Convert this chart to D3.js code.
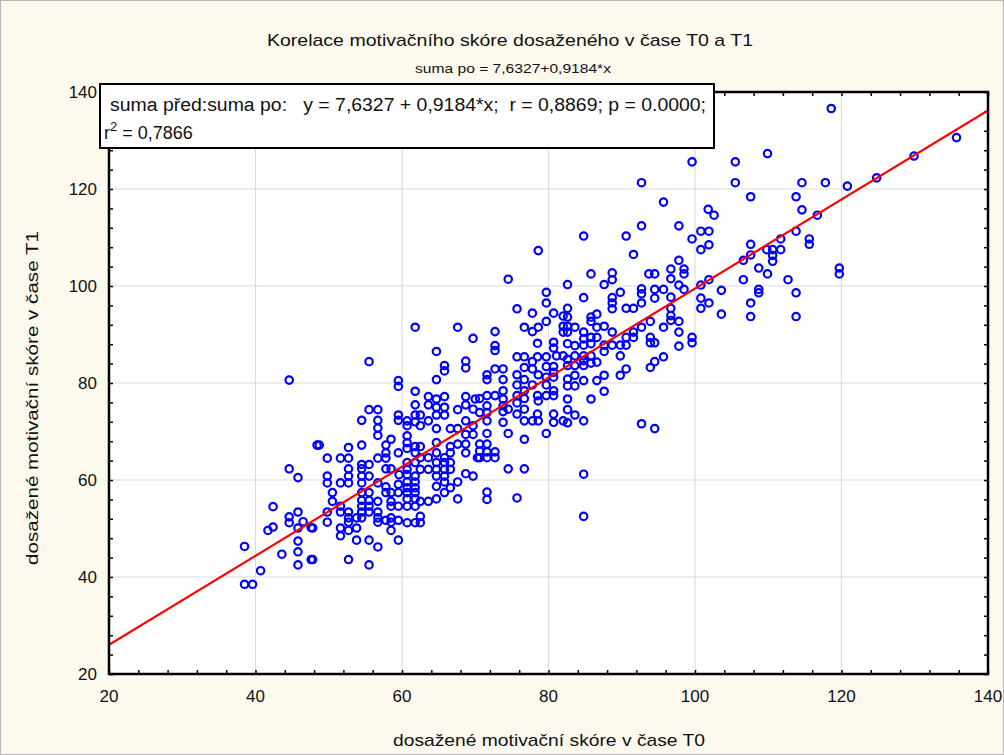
<!DOCTYPE html>
<html>
<head>
<meta charset="utf-8">
<script src="https://cdn.jsdelivr.net/npm/d3@7"></script>
<style>
  body { margin: 0; background: #fdf9ef; }
  svg text { font-family: "Liberation Sans", Arial, sans-serif; fill: #111; }
</style>
</head>
<body>
<svg id="chart" width="1004" height="755"></svg>
<script>
const width = 1004;
const height = 755;
const plot = { left: 109, right: 988, top: 92, bottom: 674 };

const xTicks = [20, 40, 60, 80, 100, 120, 140];
const yTicks = [20, 40, 60, 80, 100, 120, 140];
const lineIntercept = 7.6327;
const lineSlope = 0.9184;

// [suma před (T0), suma po (T1)]
const scorePairs = [
  [48.4,67.2],[44.6,62.3],[45.8,60.5],[42.4,54.5],[45.8,53.4],[44.6,52.4],[44.6,51.2],[46.5,51.4],[45.8,50.1],[47.6,50.2],
  [42.4,50.3],[41.7,49.6],[38.5,46.3],[45.8,47.4],[45.8,45.2],[43.6,44.7],[47.6,43.6],[45.8,42.5],[40.7,41.3],[38.5,38.5],
  [39.6,38.5],[44.6,80.6],
  [55.5,84.4],[59.5,80.5],[59.5,79.3],[55.5,74.5],[56.7,74.5],[54.5,72.3],[56.7,72.3],[59.5,73.4],[59.5,72.3],[56.7,70.7],
  [56.7,69.2],[58.5,68.4],[48.7,67.2],[52.7,66.7],[54.5,67.2],[57.8,67.2],[57.8,65.6],[59.5,65.6],[49.8,64.5],[51.6,64.5],
  [52.7,64.5],[56.7,64.5],[57.8,64.5],[54.5,63.2],[55.5,63.2],[52.7,62.3],[54.5,62.3],[57.8,62.3],[58.5,62.3],[49.8,60.8],
  [52.7,60.8],[54.5,60.8],[55.5,60.8],[49.8,59.4],[51.6,59.4],[52.7,59.4],[54.5,59.4],[56.7,59.4],[57.8,58.6],[59.5,59.1],
  [50.5,57.4],[54.5,57.4],[55.5,57.4],[57.8,57.4],[58.5,57.4],[59.5,57.4],[50.5,55.6],[54.5,55.8],[55.5,55.8],[56.7,55.6],
  [58.5,55.6],[51.6,54.6],[54.5,54.6],[55.5,54.6],[58.5,54.6],[59.5,54.6],[51.6,53.4],[52.7,53.4],[54.5,53.4],[55.5,53.4],
  [56.7,53.4],[49.8,53.4],[52.7,52.2],[53.8,52.2],[54.5,52.2],[56.7,52.2],[58.5,52.2],[57.8,51.7],[59.5,51.7],[49.8,51.3],
  [52.7,51.3],[56.7,51.3],[58.5,51.3],[47.8,50.1],[51.6,50.1],[53.8,50.1],[52.7,49.6],[58.5,49.6],[51.6,48.5],[59.5,47.6],
  [53.8,47.6],[55.5,47.6],[56.7,46.2],[47.8,43.6],[52.7,43.6],[55.5,42.5],
  [61.8,91.5],[67.6,91.5],[69.7,89.2],[64.7,86.5],[65.8,83.6],[65.8,82.5],[68.7,84.5],[68.7,83.1],[64.7,80.7],[61.8,78.3],
  [63.6,77.2],[64.7,76.7],[65.8,77.2],[68.7,77.2],[70.0,76.7],[61.8,75.5],[63.6,75.5],[64.7,75.0],[65.8,75.0],[68.7,75.5],
  [67.6,74.5],[69.7,74.6],[60.7,72.2],[61.8,73.4],[62.5,73.4],[64.7,73.4],[65.8,73.4],[60.7,71.2],[61.8,72.0],[62.5,71.2],
  [63.6,72.2],[64.7,70.6],[66.6,70.6],[67.6,70.6],[68.7,72.2],[69.7,71.2],[68.7,69.4],[69.7,69.4],[60.7,69.1],[60.7,67.7],
  [60.7,66.5],[61.8,66.9],[62.5,66.9],[64.7,67.7],[66.6,66.9],[67.6,67.4],[68.7,67.4],[68.7,65.6],[70.3,64.6],[61.8,65.6],
  [62.5,64.6],[63.6,64.6],[64.7,65.6],[65.8,64.6],[66.6,65.6],[60.7,63.6],[61.8,63.6],[64.7,63.6],[65.8,63.6],[66.6,63.6],
  [60.7,62.2],[62.5,62.2],[63.6,62.2],[64.7,62.2],[65.8,62.2],[66.6,62.2],[59.6,61.1],[60.7,61.1],[61.8,60.8],[64.7,60.8],
  [65.8,60.8],[68.7,61.3],[69.7,60.8],[60.7,59.6],[61.8,59.6],[65.8,59.6],[67.6,59.6],[60.7,58.4],[61.8,58.4],[64.7,58.7],
  [66.6,58.4],[60.7,57.4],[61.8,57.4],[65.8,57.4],[60.7,56.1],[61.8,56.1],[62.5,55.6],[63.6,55.6],[64.7,56.1],[67.6,56.1],
  [60.7,54.6],[61.8,54.6],[62.5,52.5],[62.5,51.2],[60.7,51.2],[61.8,51.2],
  [74.5,101.4],[79.7,98.7],[79.7,96.5],[75.7,95.3],[77.8,94.4],[80.7,94.4],[79.7,92.7],[76.7,91.5],[77.8,90.6],[78.6,91.5],
  [72.7,90.6],[72.7,87.7],[72.7,86.7],[78.5,88.2],[80.7,88.4],[80.7,87.2],[75.7,85.4],[76.7,85.4],[78.5,85.4],[79.7,85.4],
  [81.1,85.6],[77.8,84.4],[76.7,83.2],[77.8,82.9],[79.7,83.4],[80.7,83.4],[72.7,82.9],[73.8,82.9],[71.6,81.7],[71.6,80.7],
  [73.8,80.7],[75.7,81.7],[75.7,79.6],[76.7,80.7],[78.6,81.7],[79.7,81.2],[80.7,82.2],[80.7,81.2],[76.7,78.4],[77.8,79.6],
  [79.7,79.6],[80.7,78.4],[73.8,78.4],[72.7,77.4],[71.6,77.4],[70.6,76.8],[73.8,76.7],[75.7,77.4],[76.7,76.8],[78.5,77.4],
  [78.6,76.3],[79.7,77.4],[80.7,77.4],[71.6,75.3],[73.8,75.3],[75.7,75.9],[74.5,74.6],[76.7,74.6],[73.8,74.1],[70.6,73.9],
  [71.6,73.9],[75.7,73.6],[78.5,73.6],[80.7,73.6],[71.6,72.2],[73.8,71.9],[76.7,72.2],[77.8,72.2],[78.6,72.2],[80.7,71.9],
  [71.6,69.6],[74.5,69.6],[79.7,69.6],[76.7,68.4],[70.6,67.4],[71.6,67.4],[70.6,66.0],[71.6,65.8],[72.7,65.8],[70.6,64.6],
  [71.6,64.6],[72.7,64.6],[74.5,62.3],[76.7,62.3],[71.6,57.5],[71.6,56.0],[75.7,56.3],[78.6,107.3],
  [84.8,110.3],[90.6,110.3],[91.6,106.5],[85.8,102.5],[88.7,102.7],[88.7,101.3],[87.6,100.3],[82.6,100.3],[89.8,98.7],[84.8,97.6],
  [88.7,97.6],[88.7,96.5],[88.7,95.3],[90.6,95.4],[91.6,95.4],[82.6,95.4],[82.0,93.8],[82.6,93.6],[85.8,93.6],[86.6,94.2],
  [85.8,92.7],[82.0,91.7],[82.6,91.7],[83.6,91.5],[86.6,91.5],[87.6,91.7],[82.0,90.5],[82.6,90.5],[84.8,90.5],[88.7,90.5],
  [91.6,90.5],[85.8,89.4],[84.8,89.1],[86.6,89.4],[90.6,89.4],[91.6,89.4],[82.6,88.1],[83.6,87.7],[84.8,87.8],[85.8,88.1],
  [87.6,87.8],[88.7,87.8],[89.8,87.8],[90.6,87.8],[87.6,86.5],[89.8,85.6],[82.0,85.6],[83.6,85.6],[84.8,85.6],[85.8,85.6],
  [82.6,84.9],[84.8,84.6],[86.6,84.3],[82.6,83.6],[83.6,83.6],[84.8,83.6],[85.8,84.1],[90.6,82.9],[89.8,81.6],[87.6,81.6],
  [83.6,81.6],[82.6,80.8],[84.8,80.5],[86.6,80.5],[82.6,79.4],[83.6,79.4],[87.6,78.3],[85.8,76.7],[82.6,76.7],[82.6,74.5],
  [83.6,73.4],[84.8,72.2],[82.6,71.8],[82.0,72.2],[84.8,61.2],[84.8,52.5],
  [99.6,125.6],[92.7,121.3],[95.7,117.3],[92.7,112.4],[97.8,112.4],[101.8,115.8],[102.6,114.6],[100.8,111.3],[101.9,111.3],[99.6,109.7],
  [100.8,107.5],[101.9,108.5],[97.8,105.3],[96.7,103.5],[98.5,103.5],[98.5,102.5],[93.7,102.5],[94.5,102.5],[96.7,101.5],[97.8,100.2],
  [100.8,100.2],[101.9,101.3],[92.7,99.4],[92.7,98.4],[94.5,99.3],[95.7,99.3],[98.5,99.3],[96.7,97.7],[94.5,97.5],[100.8,97.5],
  [101.9,96.5],[92.7,96.5],[100.8,95.4],[96.7,95.4],[96.7,93.9],[96.7,92.9],[97.8,92.7],[93.9,92.7],[92.7,91.5],[95.7,91.5],
  [97.8,90.5],[93.9,89.4],[93.9,88.3],[94.5,88.3],[99.6,89.4],[99.6,88.3],[97.8,87.6],[95.7,85.4],[94.5,84.4],[93.9,83.2],
  [92.7,71.6],[94.5,70.6],
  [109.9,127.3],[105.5,125.6],[105.5,121.3],[114.6,121.3],[117.8,121.3],[107.6,118.4],[113.8,118.4],[114.6,115.7],[116.7,114.6],[113.8,111.3],
  [115.6,109.7],[115.6,108.6],[111.7,109.7],[107.6,108.6],[107.6,106.4],[106.6,105.3],[109.8,107.5],[110.6,107.5],[110.6,106.3],[111.7,107.5],
  [110.6,105.1],[108.7,103.7],[109.9,102.5],[106.6,101.3],[112.7,101.3],[103.6,99.1],[108.7,99.3],[108.7,98.6],[113.8,98.6],[107.6,96.5],
  [103.6,94.2],[107.6,93.7],[113.8,93.7],
  [118.6,136.6],[135.7,130.6],[129.9,126.8],[124.8,122.3],[120.8,120.6],[119.7,103.7],[119.7,102.5]
];

const svg = d3.select("#chart");

svg.append("rect")
  .attr("x", 0.5).attr("y", 0.5)
  .attr("width", width - 1).attr("height", height - 1)
  .attr("fill", "#fdf9ef")
  .attr("stroke", "#b8b8b8");

const x = d3.scaleLinear().domain([20, 140]).range([plot.left, plot.right]);
const y = d3.scaleLinear().domain([20, 140]).range([plot.bottom, plot.top]);

svg.append("rect")
  .attr("x", plot.left).attr("y", plot.top)
  .attr("width", plot.right - plot.left).attr("height", plot.bottom - plot.top)
  .attr("fill", "#fff");

// grid
svg.append("g")
  .selectAll("line")
  .data(xTicks.slice(1, -1))
  .join("line")
  .attr("x1", d => x(d)).attr("x2", d => x(d))
  .attr("y1", plot.top).attr("y2", plot.bottom)
  .attr("stroke", "#dcdcdc").attr("stroke-width", 1.2);

svg.append("g")
  .selectAll("line")
  .data(yTicks.slice(1, -1))
  .join("line")
  .attr("x1", plot.left).attr("x2", plot.right)
  .attr("y1", d => y(d)).attr("y2", d => y(d))
  .attr("stroke", "#dcdcdc").attr("stroke-width", 1.2);

// axes with inward minor ticks every 4 units
const minorTicks = d3.range(20, 141, 4);
const tickFmt = d3.format("d");

svg.append("g")
  .attr("transform", `translate(0,${plot.bottom})`)
  .call(d3.axisTop(x).tickValues(minorTicks).tickSize(4).tickFormat(""));
svg.append("g")
  .attr("transform", `translate(0,${plot.top})`)
  .call(d3.axisBottom(x).tickValues(minorTicks).tickSize(4).tickFormat(""));
svg.append("g")
  .attr("transform", `translate(${plot.left},0)`)
  .call(d3.axisRight(y).tickValues(minorTicks).tickSize(4).tickFormat(""));
svg.append("g")
  .attr("transform", `translate(${plot.right},0)`)
  .call(d3.axisLeft(y).tickValues(minorTicks).tickSize(4).tickFormat(""));

svg.selectAll(".domain").remove();
svg.selectAll(".tick line").attr("stroke", "#000").attr("stroke-width", 1.5);

// tick labels
svg.append("g")
  .selectAll("text")
  .data(xTicks)
  .join("text")
  .attr("x", d => x(d))
  .attr("y", plot.bottom + 28)
  .attr("text-anchor", "middle")
  .attr("font-size", 17)
  .text(tickFmt);

svg.append("g")
  .selectAll("text")
  .data(yTicks)
  .join("text")
  .attr("x", plot.left - 12)
  .attr("y", d => y(d) + 6)
  .attr("text-anchor", "end")
  .attr("font-size", 17)
  .text(tickFmt);

// clip for marks
svg.append("clipPath").attr("id", "plotClip")
  .append("rect")
  .attr("x", plot.left).attr("y", plot.top)
  .attr("width", plot.right - plot.left).attr("height", plot.bottom - plot.top);

// points
svg.append("g")
  .attr("clip-path", "url(#plotClip)")
  .selectAll("circle")
  .data(scorePairs)
  .join("circle")
  .attr("cx", d => x(d[0]))
  .attr("cy", d => y(d[1]))
  .attr("r", 3.7)
  .attr("fill", "none")
  .attr("stroke", "#0000ff")
  .attr("stroke-width", 2.2);

// regression line
const lineX = x.domain();
svg.append("line")
  .attr("clip-path", "url(#plotClip)")
  .attr("x1", x(lineX[0])).attr("y1", y(lineIntercept + lineSlope * lineX[0]))
  .attr("x2", x(lineX[1])).attr("y2", y(lineIntercept + lineSlope * lineX[1]))
  .attr("stroke", "#ff0000")
  .attr("stroke-width", 2.2);

// frame
svg.append("rect")
  .attr("x", plot.left).attr("y", plot.top)
  .attr("width", plot.right - plot.left).attr("height", plot.bottom - plot.top)
  .attr("fill", "none")
  .attr("stroke", "#000")
  .attr("stroke-width", 2.5);

// titles
svg.append("text")
  .attr("x", 510).attr("y", 46)
  .attr("text-anchor", "middle")
  .attr("font-size", 17)
  .attr("textLength", 486).attr("lengthAdjust", "spacingAndGlyphs")
  .text("Korelace motivačního skóre dosaženého v čase T0 a T1");

svg.append("text")
  .attr("x", 513).attr("y", 73)
  .attr("text-anchor", "middle")
  .attr("font-size", 12)
  .attr("textLength", 196).attr("lengthAdjust", "spacingAndGlyphs")
  .text("suma po = 7,6327+0,9184*x");

// statistics box
svg.append("rect")
  .attr("x", 100).attr("y", 84)
  .attr("width", 614).attr("height", 64)
  .attr("fill", "#fff")
  .attr("stroke", "#000")
  .attr("stroke-width", 2);

svg.append("text")
  .attr("x", 110).attr("y", 111)
  .attr("font-size", 18)
  .attr("textLength", 596).attr("lengthAdjust", "spacingAndGlyphs")
  .attr("xml:space", "preserve")
  .text("suma před:suma po:   y = 7,6327 + 0,9184*x;  r = 0,8869; p = 0.0000;");

const r2 = svg.append("text")
  .attr("x", 104).attr("y", 139)
  .attr("font-size", 18);
r2.append("tspan").text("r");
r2.append("tspan").attr("dy", -8).attr("font-size", 13).text("2");
r2.append("tspan").attr("dy", 8).text(" = 0,7866");

// axis titles
svg.append("text")
  .attr("x", 549).attr("y", 746)
  .attr("text-anchor", "middle")
  .attr("font-size", 17)
  .attr("textLength", 312).attr("lengthAdjust", "spacingAndGlyphs")
  .text("dosažené motivační skóre v čase T0");

svg.append("text")
  .attr("transform", "translate(38,398) rotate(-90)")
  .attr("text-anchor", "middle")
  .attr("font-size", 17)
  .attr("textLength", 334).attr("lengthAdjust", "spacingAndGlyphs")
  .text("dosažené motivační skóre v čase T1");
</script>
</body>
</html>
